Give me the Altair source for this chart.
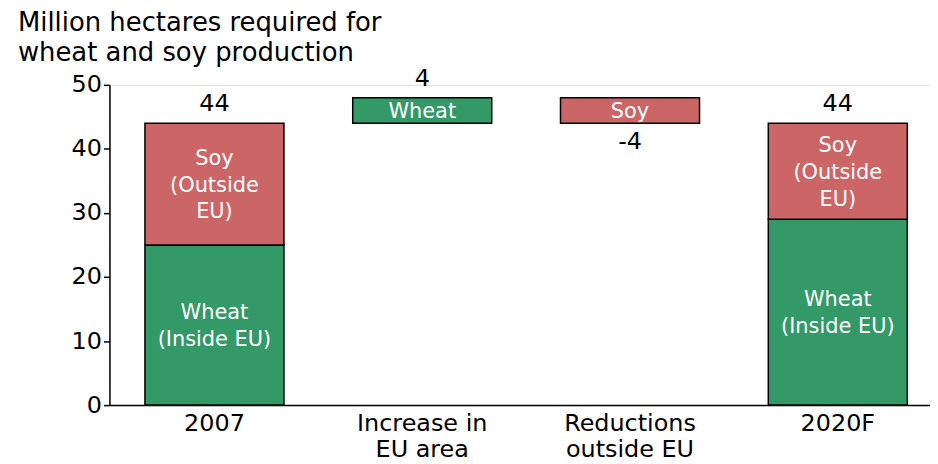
import altair as alt
import pandas as pd

# ---- data ----
categories = ["2007", "Increase in\nEU area", "Reductions\noutside EU", "2020F"]
wheat_values = [25, 4, 0, 29]     # wheat area (or change) per column
soy_values = [19, 0, -4, 15]      # soy area (or change) per column
totals = [44, 4, -4, 44]          # numbers printed above/below the columns
wheat_text = ["Wheat\n(Inside EU)", "Wheat", "", "Wheat\n(Inside EU)"]
soy_text = ["Soy\n(Outside\nEU)", "", "Soy", "Soy\n(Outside\nEU)"]
is_step = [False, True, True, False]  # waterfall steps start from running level

FONT = "DejaVu Sans"
LINE_H = 27

# ---- build segment table (waterfall) ----
seg_rows, tot_rows = [], []
level = 0
for cat, w, s, tot, wt, st, step in zip(categories, wheat_values, soy_values, totals,
                                        wheat_text, soy_text, is_step):
    base = level if step else 0
    if step:
        if w:
            seg_rows.append(dict(cat=cat, crop="Wheat", y0=base, y1=base + w, label=wt))
            level = base + w
            tot_rows.append(dict(cat=cat, pos=base + w, val=str(tot), side="above"))
        if s:
            seg_rows.append(dict(cat=cat, crop="Soy", y0=base + s, y1=base, label=st))
            level = base + s
            tot_rows.append(dict(cat=cat, pos=base + s, val=str(tot), side="below"))
    else:
        seg_rows.append(dict(cat=cat, crop="Wheat", y0=0, y1=w, label=wt))
        seg_rows.append(dict(cat=cat, crop="Soy", y0=w, y1=w + s, label=st))
        level = w + s
        tot_rows.append(dict(cat=cat, pos=w + s, val=str(tot), side="above"))

seg = pd.DataFrame(seg_rows)
seg["mid"] = (seg["y0"] + seg["y1"]) / 2
seg["nlines"] = seg["label"].apply(lambda t: t.count("\n") + 1 if t else 0)
tot = pd.DataFrame(tot_rows)

x_enc = alt.X("cat:N", sort=categories, title=None,
              scale=alt.Scale(paddingInner=0.331, paddingOuter=0.14, align=0.61),
              axis=alt.Axis(labelExpr="split(datum.label, '\\n')", labelAngle=0,
                            labelFontSize=24, labelFont=FONT, labelColor="black",
                            labelLineHeight=26, labelPadding=7, ticks=False,
                            domainColor="black", domainWidth=1.5))
y_scale = alt.Scale(domain=[0, 50], nice=False)

bars = alt.Chart(seg).mark_bar(stroke="black", strokeWidth=1.5).encode(
    x=x_enc,
    y=alt.Y("y0:Q", scale=y_scale, title=None,
            axis=alt.Axis(values=[0, 10, 20, 30, 40, 50], grid=False,
                          labelFontSize=24, labelFont=FONT, labelColor="black",
                          tickColor="black", tickSize=6, tickWidth=1.5,
                          domainColor="black", domainWidth=1.5, labelPadding=2)),
    y2="y1:Q",
    color=alt.Color("crop:N", legend=None,
                    scale=alt.Scale(domain=["Wheat", "Soy"], range=["#339966", "#CC6666"])),
)


def seg_label_layer(n):
    return alt.Chart(seg).transform_filter(f"datum.nlines == {n}").mark_text(
        color="white", font=FONT, fontSize=21, lineBreak="\n", lineHeight=LINE_H,
        baseline="middle", align="center", dy=-(n - 1) * LINE_H / 2 + 1.5
    ).encode(x=alt.X("cat:N", sort=categories), y=alt.Y("mid:Q", scale=y_scale),
             text="label:N")


above = alt.Chart(tot).transform_filter("datum.side == 'above'").mark_text(
    color="black", font=FONT, fontSize=24, baseline="bottom", dy=-7
).encode(x=alt.X("cat:N", sort=categories), y=alt.Y("pos:Q", scale=y_scale), text="val:N")

below = alt.Chart(tot).transform_filter("datum.side == 'below'").mark_text(
    color="black", font=FONT, fontSize=24, baseline="top", dy=7
).encode(x=alt.X("cat:N", sort=categories), y=alt.Y("pos:Q", scale=y_scale), text="val:N")

chart = alt.layer(bars, seg_label_layer(1), seg_label_layer(2), seg_label_layer(3),
                  above, below).properties(
    width=825, height=322,
    padding={"left": 102, "top": 76, "right": 0, "bottom": 64},
    autosize=alt.AutoSizeParams(type="none"),
    title=alt.Title(["Million hectares required for", "wheat and soy production"],
                    anchor="start", frame="group", dx=-92, offset=1,
                    fontSize=26, fontWeight="normal", font=FONT, color="black",
                    lineHeight=30),
).configure_view(stroke=None).configure(background="white")

chart.save("out.html", embed_options={"renderer": "svg", "actions": False})
